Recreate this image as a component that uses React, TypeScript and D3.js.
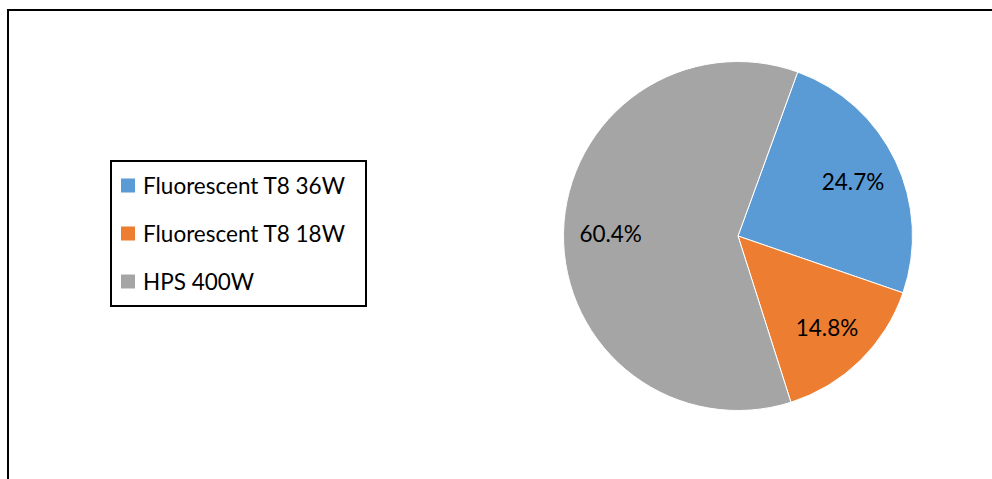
import React from "react";
import * as d3 from "d3";

const categories = ["Fluorescent T8 36W", "Fluorescent T8 18W", "HPS 400W"];
const shares = [24.7, 14.8, 60.4];
const colors = ["#5B9BD5", "#ED7D31", "#A5A5A5"];

const W = 992;
const H = 479;
const FONT = "Lato, 'Open Sans', sans-serif";

export default function App() {
  const cx = 738;
  const cy = 236;
  const radius = 174.5;
  const startAngle = (20 * Math.PI) / 180;

  const pie = d3
    .pie<number>()
    .sort(null)
    .value((d) => d)
    .startAngle(startAngle)
    .endAngle(startAngle + 2 * Math.PI);
  const arcs = pie(shares);
  const arc = d3.arc<d3.PieArcDatum<number>>().innerRadius(0).outerRadius(radius);
  const labelArc = d3
    .arc<d3.PieArcDatum<number>>()
    .innerRadius(radius * 0.73)
    .outerRadius(radius * 0.73);

  const legendY = d3.scalePoint<string>().domain(categories).range([185.5, 281.5]);

  return (
    <svg
      width={W}
      height={H}
      style={{ position: "absolute", left: 0, top: 0, display: "block" }}
      fontFamily={FONT}
    >
      <rect width={W} height={H} fill="#fff" />
      {/* frame: top and left edges */}
      <path d={`M8,${H} L8,10 L${W},10`} fill="none" stroke="#000" strokeWidth={2} />

      <g transform={`translate(${cx},${cy})`}>
        {arcs.map((a, i) => (
          <path key={i} d={arc(a) || ""} fill={colors[i]} stroke="#fff" strokeWidth={1} />
        ))}
        {arcs.map((a, i) => {
          const [x, y] = labelArc.centroid(a);
          return (
            <text
              key={i}
              x={x}
              y={y}
              textAnchor="middle"
              dominantBaseline="central"
              fontSize={22.5}
              fill="#000"
            >
              {`${shares[i].toFixed(1)}%`}
            </text>
          );
        })}
      </g>

      {/* legend */}
      <rect x={111} y={161} width={255} height={145} fill="#fff" stroke="#000" strokeWidth={2} />
      {categories.map((c, i) => {
        const y = legendY(c) as number;
        return (
          <g key={c}>
            <rect x={121} y={y - 7} width={14} height={14} fill={colors[i]} />
            <text x={143} y={y} dominantBaseline="central" fontSize={22.5} fill="#000">
              {c}
            </text>
          </g>
        );
      })}
    </svg>
  );
}
